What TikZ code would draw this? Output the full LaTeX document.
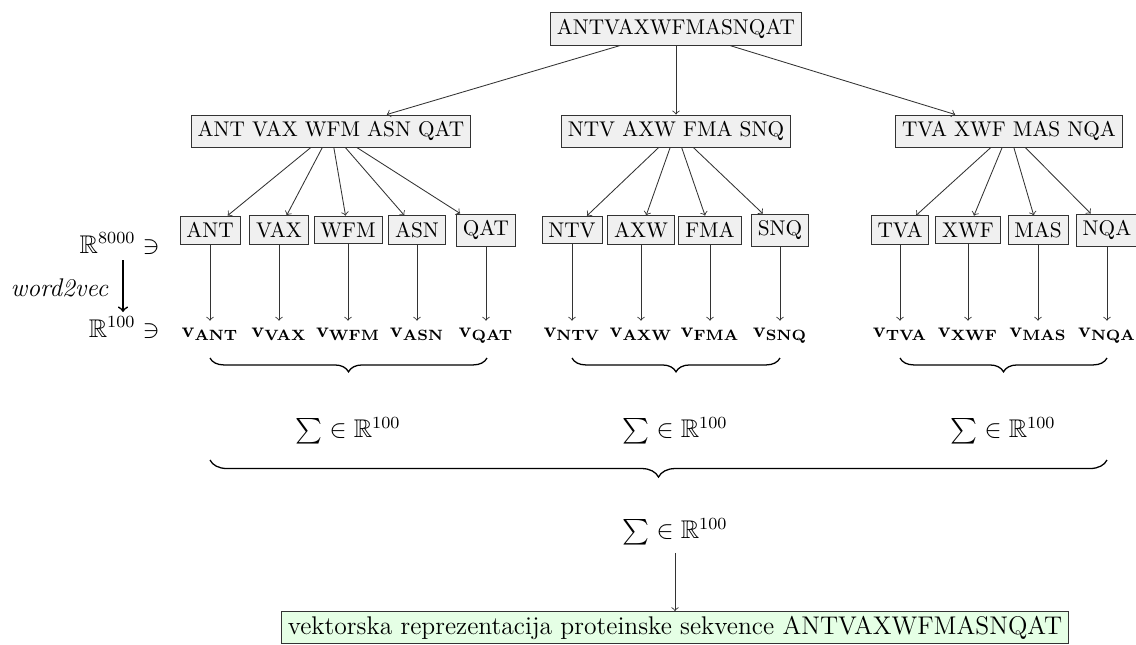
\documentclass[tikz,border=0pt]{standalone}
\usepackage{amsmath,amssymb}
\usetikzlibrary{decorations.pathreplacing}
\begin{document}
\begin{tikzpicture}[x=0.4695pt,y=-0.4695pt,
  seq/.style={draw=black!80, fill=black!6, inner sep=3pt},
  vec/.style={inner sep=3pt, anchor=base},
  arr/.style={->, black!80},
  lbl/.style={font=\large},
  brc/.style={decorate, decoration={brace, mirror, amplitude=#1}, semithick}]
\useasboundingbox (0,0) rectangle (1136,644);
% level 1
\node[seq] (top) at (676,29) {ANTVAXWFMASNQAT};
% level 2
\node[seq] (g1) at (331,131) {ANT VAX WFM ASN QAT};
\node[seq] (g2) at (676,131) {NTV AXW FMA SNQ};
\node[seq] (g3) at (1009,131) {TVA XWF MAS NQA};
\draw[arr] (top) -- (g1);
\draw[arr] (top) -- (g2);
\draw[arr] (top) -- (g3);
% level 3 and vectors
\foreach \n/\x/\g in {ANT/210/g1, VAX/279/g1, WFM/348/g1, ASN/417/g1, QAT/486/g1,
                      NTV/572/g2, AXW/641/g2, FMA/710/g2, SNQ/780/g2,
                      TVA/900/g3, XWF/968/g3, MAS/1038/g3, NQA/1107/g3} {
  \node[seq] (\n) at (\x,230) {\n};
  \draw[arr] (\g) -- (\n);
  \node[vec] (v\n) at (\x,337) {$\mathbf{v}_{\mathbf{\n}}$};
  \draw[arr] (\n) -- (v\n);
}
% left labels
\node[lbl, anchor=base east, inner sep=0pt] (r1) at (160,253) {$\mathbb{R}^{8000} \ni$};
\node[lbl, anchor=base east, inner sep=0pt] (r2) at (160,337) {$\mathbb{R}^{100} \ni$};
\coordinate (w1) at (123,260);
\coordinate (w2) at (123,312);
\draw[->, thick] (w1) -- (w2);
\node[lbl, anchor=east] (w2v) at (116,288) {\textit{word2vec}};
% braces
\coordinate (b1l) at (210,358); \coordinate (b1r) at (487,358);
\coordinate (b2l) at (572,358); \coordinate (b2r) at (780,358);
\coordinate (b3l) at (900,358); \coordinate (b3r) at (1107,358);
\draw[brc=6.5pt] (b1l) -- (b1r);
\draw[brc=6.5pt] (b2l) -- (b2r);
\draw[brc=6.5pt] (b3l) -- (b3r);
\node[lbl] (s1) at (348,431) {$\sum \in \mathbb{R}^{100}$};
\node[lbl] (s2) at (675,431) {$\sum \in \mathbb{R}^{100}$};
\node[lbl] (s3) at (1003,431) {$\sum \in \mathbb{R}^{100}$};
\coordinate (bbl) at (210,460); \coordinate (bbr) at (1107,460);
\draw[brc=8pt] (bbl) -- (bbr);
\node[lbl] (S) at (675,532) {$\sum \in \mathbb{R}^{100}$};
% output
\node[draw=black!80, fill=green!10, inner xsep=3pt, inner ysep=2pt, font=\large] (out) at (675,627.5) {vektorska reprezentacija proteinske sekvence ANTVAXWFMASNQAT};
\draw[arr] (S) -- (out);
\end{tikzpicture}
\end{document}
